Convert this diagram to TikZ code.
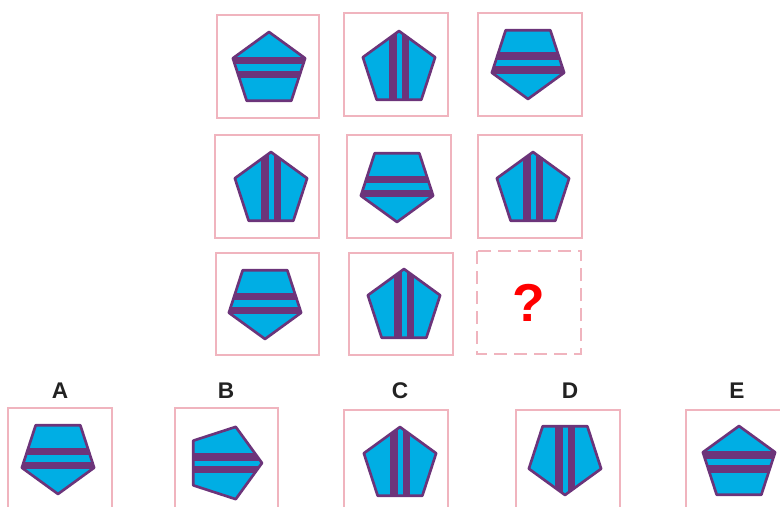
\documentclass[tikz,border=0pt]{standalone}
\usepackage{fontspec}
\setmainfont{Liberation Sans}
\definecolor{pentblue}{RGB}{0,174,228}
\definecolor{stripe}{RGB}{108,52,122}
\definecolor{boxpink}{RGB}{240,180,190}
\definecolor{labelgray}{RGB}{34,34,34}
% Правильный пятиугольник (вершиной вверх), радиус 38
\newcommand{\pentagon}{(-90:38) -- (-18:38) -- (54:38) -- (126:38) -- (198:38) -- cycle}

\begin{document}
\begin{tikzpicture}[
        % 1 единица = 1 пиксель, ось y вниз
        x=0.75pt, y=-0.75pt,
        % Стиль для рамок клеток
        cell/.style={
            draw=boxpink,
            line width=1.5pt
        },
        % Стиль для буквенных меток
        label style/.style={
            labelgray,
            font=\fontsize{17}{20}\selectfont\bfseries,
            inner sep=0pt
        },
        % Пятиугольник с полосами вдоль оси
        pentP/.pic={
            \fill[pentblue] \pentagon;
            \begin{scope}
                \clip \pentagon;
                \fill[stripe] (-10,-40) rectangle (-2.5,40);
                \fill[stripe] (2.5,-40) rectangle (10,40);
            \end{scope}
            \draw[stripe, line width=2pt, line join=round] \pentagon;
        },
        % Пятиугольник с полосами поперёк оси
        pentQ/.pic={
            \fill[pentblue] \pentagon;
            \begin{scope}
                \clip \pentagon;
                \fill[stripe] (-40,-13) rectangle (40,-5.5);
                \fill[stripe] (-40,1) rectangle (40,8.5);
            \end{scope}
            \draw[stripe, line width=2pt, line join=round] \pentagon;
        }
    ]
        \useasboundingbox (0,0) rectangle (780,506);

        % Рамки матрицы 3x3
        \draw[cell] (217,15) rectangle (319,118);
        \draw[cell] (344,13) rectangle (448,116);
        \draw[cell] (478,13) rectangle (582,116);
        \draw[cell] (215,135) rectangle (319,238);
        \draw[cell] (347,135) rectangle (451,238);
        \draw[cell] (478,135) rectangle (582,238);
        \draw[cell] (216,253) rectangle (319,355);
        \draw[cell] (349,253) rectangle (453,355);
        \draw[cell, dashed, dash pattern=on 10pt off 5pt] (477,251) rectangle (581,354);

        % Рамки вариантов ответа
        \draw[cell] (8,408) rectangle (112,520);   % A
        \draw[cell] (175,408) rectangle (278,520); % B
        \draw[cell] (344,410) rectangle (448,520); % C
        \draw[cell] (516,410) rectangle (620,520); % D
        \draw[cell] (686,410) rectangle (790,520); % E

        % Фигуры матрицы
        \pic at (269,70) {pentQ};
        \pic at (399,69) {pentP};
        \pic[rotate=180] at (528,61) {pentQ};
        \pic at (271,190) {pentP};
        \pic[rotate=180] at (397,184) {pentQ};
        \pic at (533,190) {pentP};
        \pic[rotate=180] at (265,301) {pentQ};
        \pic at (404,307) {pentP};

        % Знак вопроса
        \node[red, font=\fontsize{40}{42}\selectfont\bfseries] (qmark) at (528.5,303) {?};

        % Варианты ответа
        \pic[rotate=180] at (58,456) {pentQ};  % A
        \pic[rotate=-90] at (224,463) {pentP}; % B
        \pic at (400,465) {pentP};             % C
        \pic[rotate=180] at (565,457) {pentP}; % D
        \pic at (739,464) {pentQ};             % E

        % Буквенные метки
        \node[label style] (labA) at (60,391) {A};
        \node[label style] (labB) at (226,391) {B};
        \node[label style] (labC) at (400,391) {C};
        \node[label style] (labD) at (570,391) {D};
        \node[label style] (labE) at (737,391) {E};

    \end{tikzpicture}
\end{document}
